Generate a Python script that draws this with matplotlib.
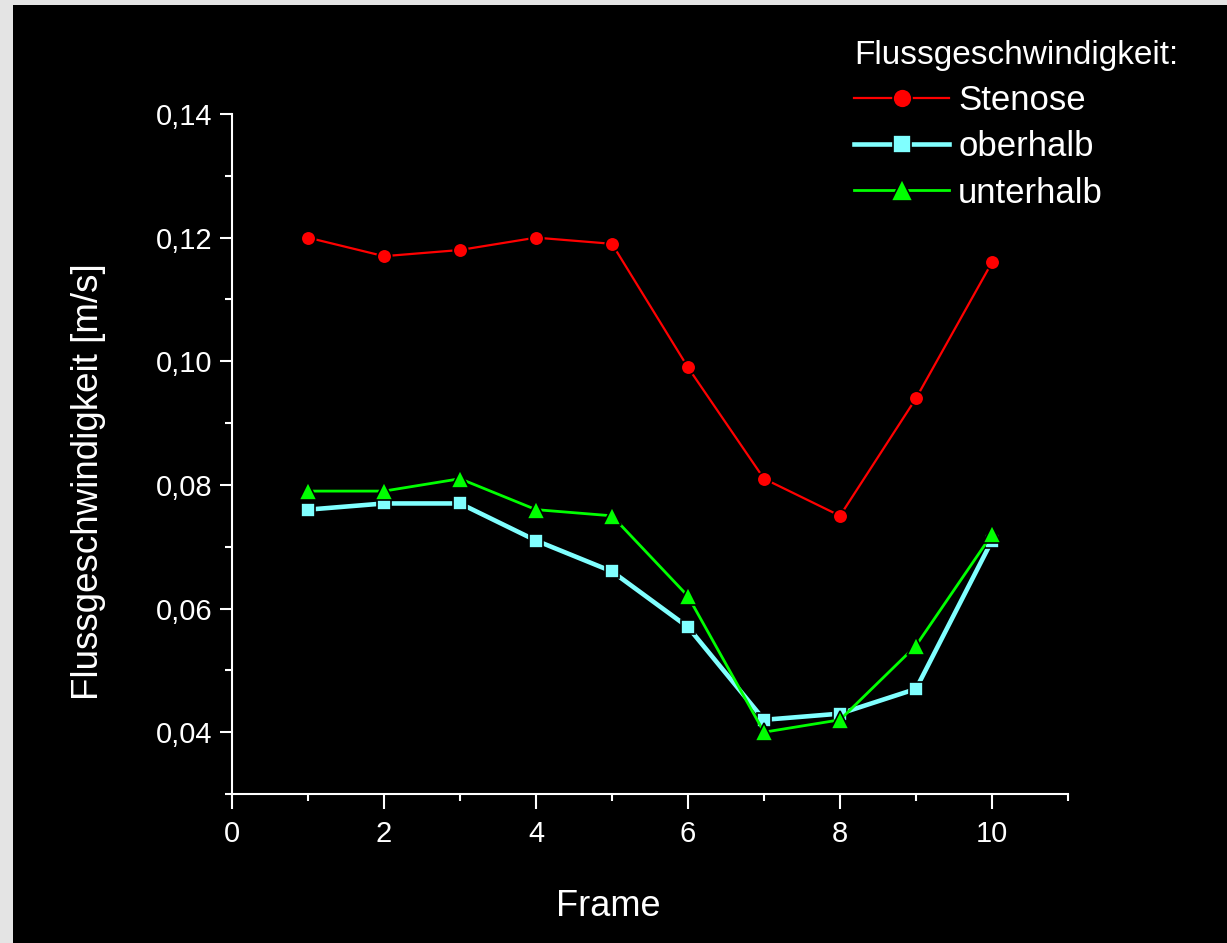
import matplotlib
matplotlib.use('Agg')
import matplotlib.pyplot as plt
from matplotlib.patches import Rectangle
from matplotlib.ticker import MultipleLocator, FuncFormatter

# data
frames = [1, 2, 3, 4, 5, 6, 7, 8, 9, 10]
stenose = [0.120, 0.117, 0.118, 0.120, 0.119, 0.099, 0.081, 0.075, 0.094, 0.116]
oberhalb = [0.076, 0.077, 0.077, 0.071, 0.066, 0.057, 0.042, 0.043, 0.047, 0.071]
unterhalb = [0.079, 0.079, 0.081, 0.076, 0.075, 0.062, 0.040, 0.042, 0.054, 0.072]

plt.rcParams['font.family'] = ['Liberation Sans', 'DejaVu Sans']

fig = plt.figure(figsize=(12.27, 9.43), dpi=100)
fig.patch.set_facecolor('#e4e4e4')
# black slide background
bg = Rectangle((13 / 1227, 0), 1, 1 - 5 / 943, transform=fig.transFigure,
               facecolor='black', edgecolor='none', zorder=-10)
fig.add_artist(bg)

ax = fig.add_axes([232 / 1227, 1 - 794 / 943, (1068 - 232) / 1227, (794 - 114) / 943])
ax.set_facecolor('none')

ax.plot(frames, stenose, color='#ff0000', lw=1.6, marker='o', ms=10.5,
        mec='black', mew=1.2, label='Stenose')
ax.plot(frames, oberhalb, color='#80ffff', lw=3.3, marker='s', ms=10,
        mec='black', mew=1.2, label='oberhalb')
ax.plot(frames, unterhalb, color='#00ff00', lw=2, marker='^', ms=12.5,
        mec='black', mew=1.2, label='unterhalb')

ax.set_xlim(0, 11)
ax.set_ylim(0.03, 0.14)
ax.xaxis.set_major_locator(MultipleLocator(2))
ax.xaxis.set_minor_locator(MultipleLocator(1))
ax.yaxis.set_major_locator(MultipleLocator(0.02))
ax.yaxis.set_minor_locator(MultipleLocator(0.01))
ax.xaxis.set_major_formatter(FuncFormatter(lambda v, p: f'{v:.0f}'))
ax.yaxis.set_major_formatter(FuncFormatter(lambda v, p: f'{v:.2f}'.replace('.', ',')))

for s in ['top', 'right']:
    ax.spines[s].set_visible(False)
for s in ['left', 'bottom']:
    ax.spines[s].set_color('white')
    ax.spines[s].set_linewidth(1.5)

ax.tick_params(axis='x', which='major', length=11, width=1.5, color='white',
               labelcolor='white', labelsize=21, pad=8)
ax.tick_params(axis='x', which='minor', length=5, width=1.5, color='white')
ax.tick_params(axis='y', which='major', length=9, width=1.5, color='white',
               labelcolor='white', labelsize=21, pad=5)
ax.tick_params(axis='y', which='minor', length=5, width=1.5, color='white')

ax.set_xlabel('Frame', color='white', fontsize=26)
ax.xaxis.set_label_coords((608 - 232) / 836, -(889 - 794) / 680)
ax.set_ylabel('Flussgeschwindigkeit [m/s]', color='white', fontsize=26.5)
ax.yaxis.set_label_coords(-(232 - 106) / 836, (794 - 482) / 680)

leg = ax.legend(loc='upper left', bbox_to_anchor=(854 / 1227, 1 - 40 / 943),
                bbox_transform=fig.transFigure, frameon=False, fontsize=25,
                title='Flussgeschwindigkeit:', title_fontsize=24, alignment='left',
                handlelength=2.75, handletextpad=0.25, labelspacing=0.38, borderpad=0,
                borderaxespad=0, markerscale=1.3)
for t in leg.get_texts():
    t.set_color('white')
leg.get_title().set_color('white')

fig.savefig('out.png', dpi=100, facecolor=fig.get_facecolor())
